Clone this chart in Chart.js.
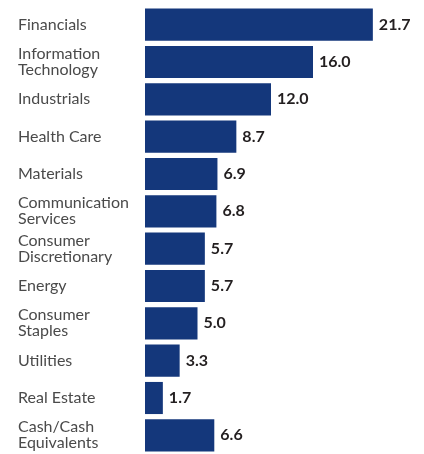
<!DOCTYPE html>
<html>
<head>
<meta charset="utf-8">
<script src="https://cdn.jsdelivr.net/npm/chart.js@4"></script>
<style>
html,body{margin:0;padding:0;background:#fff;}
#wrap{width:424px;height:454px;position:relative;}
</style>
</head>
<body>
<div id="wrap"><canvas id="c"></canvas></div>
<script>
const categories = [
  ["Financials"],
  ["Information", "Technology"],
  ["Industrials"],
  ["Health Care"],
  ["Materials"],
  ["Communication", "Services"],
  ["Consumer", "Discretionary"],
  ["Energy"],
  ["Consumer", "Staples"],
  ["Utilities"],
  ["Real Estate"],
  ["Cash/Cash", "Equivalents"]
];
const values = [21.7, 16.0, 12.0, 8.7, 6.9, 6.8, 5.7, 5.7, 5.0, 3.3, 1.7, 6.6];

const barColor = "#14377b";

const valueLabels = {
  id: "valueLabels",
  afterDatasetsDraw(chart) {
    const ctx = chart.ctx;
    const meta = chart.getDatasetMeta(0);
    ctx.save();
    ctx.font = "bold 16px Lato, 'Noto Sans', sans-serif";
    ctx.fillStyle = "#231f20";
    ctx.textAlign = "left";
    ctx.textBaseline = "middle";
    meta.data.forEach((bar, i) => {
      ctx.fillText(values[i].toFixed(1), bar.x + 6, bar.y);
    });
    ctx.restore();
  }
};

new Chart(document.getElementById("c"), {
  type: "bar",
  data: {
    labels: categories,
    datasets: [{
      data: values,
      backgroundColor: barColor,
      borderWidth: 0,
      barPercentage: 0.86,
      categoryPercentage: 1.0
    }]
  },
  options: {
    indexAxis: "y",
    responsive: true,
    maintainAspectRatio: false,
    animation: false,
    layout: { padding: { left: 18, right: 6, top: 6, bottom: 0 } },
    plugins: { legend: { display: false }, tooltip: { enabled: false } },
    scales: {
      x: { display: false, min: 0, max: 26 },
      y: {
        grid: { display: false, drawTicks: false },
        border: { display: false },
        afterFit(scale) {
          scale.width = 127;
          scale.paddingTop = 0;
          scale.paddingBottom = 0;
        },
        ticks: {
          crossAlign: "far",
          color: "#4a4a4a",
          padding: 0,
          font: { family: "Lato, 'Noto Sans', sans-serif", size: 16, lineHeight: 1.0 }
        }
      }
    }
  },
  plugins: [valueLabels]
});
</script>
</body>
</html>
